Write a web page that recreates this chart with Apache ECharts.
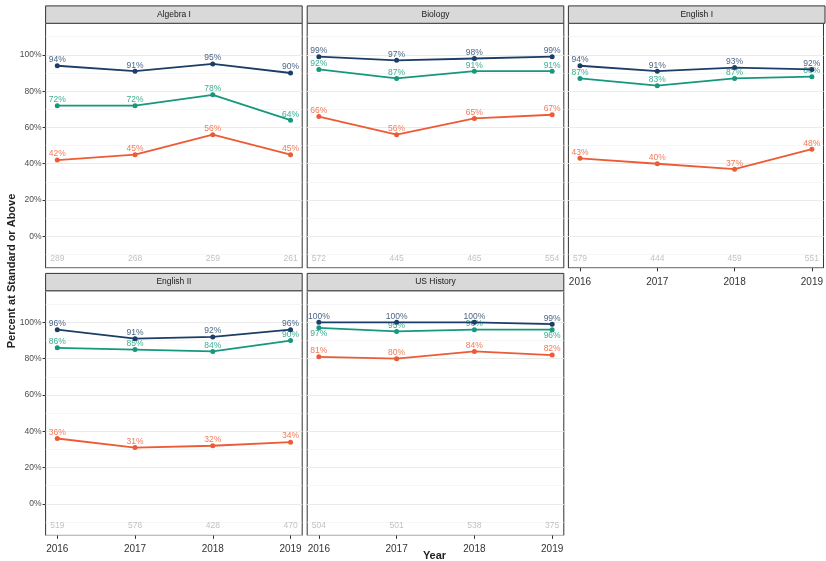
<!DOCTYPE html>
<html><head><meta charset="utf-8">
<script src="https://cdn.jsdelivr.net/npm/echarts@6/dist/echarts.min.js"></script>
<style>html,body{margin:0;padding:0;background:#fff}#c{width:826px;height:561px}</style>
</head><body><div id="c"></div>
<script>
// ---- data ----
const years = [2016, 2017, 2018, 2019];
const subjects = ['Algebra I', 'Biology', 'English I', 'English II', 'US History'];
const approaches = [[94, 91, 95, 90], [99, 97, 98, 99], [94, 91, 93, 92], [96, 91, 92, 96], [100, 100, 100, 99]];
const meets      = [[72, 72, 78, 64], [92, 87, 91, 91], [87, 83, 87, 88], [86, 85, 84, 90], [97, 95, 96, 96]];
const masters    = [[42, 45, 56, 45], [66, 56, 65, 67], [43, 40, 37, 48], [36, 31, 32, 34], [81, 80, 84, 82]];
const testedN    = [[289, 268, 259, 261], [572, 445, 465, 554], [579, 444, 459, 551], [519, 576, 428, 470], [504, 501, 538, 375]];
const yTicks = [0, 20, 40, 60, 80, 100];

// ---- style / layout ----
const FONT = 'Liberation Sans, Arial, sans-serif';
const colLefts = [45.6, 307.2, 568.4];
const rowTops = [23.3, 290.8];
const W = 256.6, H = 244.6, STRIP = 17.4;
const yMin = -17.4, yMax = 117.4, nLabelY = -12.3;
const seriesDefs = [
  {name: 'Masters', data: masters, color: '#ec5b35', label: '#f07b5c'},
  {name: 'Meets', data: meets, color: '#16987d', label: '#3dad93'},
  {name: 'Approaches', data: approaches, color: '#1c3e66', label: '#4c6686'}
];
// label placement exceptions: [panel, series name, point index]
const belowLabels = [[4, 'Meets', 0], [4, 'Meets', 3]];

const grids = [], xAxes = [], yAxes = [], series = [], graphics = [];
subjects.forEach((subj, i) => {
  const col = i % 3, row = Math.floor(i / 3);
  const left = colLefts[col], top = rowTops[row];
  const showX = i >= 2, showY = col === 0;
  grids.push({left, top, width: W, height: H, show: true, borderColor: '#333', borderWidth: 1, backgroundColor: 'transparent'});
  xAxes.push({
    type: 'value', gridIndex: i, min: 2015.85, max: 2019.15, position: 'bottom',
    splitLine: {show: false}, axisLine: {show: false, onZero: false},
    axisTick: {show: showX, length: 3.5, customValues: years, lineStyle: {color: '#333', width: 1}},
    axisLabel: {show: showX, customValues: years, formatter: v => String(v), fontSize: 10, color: '#333', margin: 9, fontFamily: FONT}
  });
  // minor grid lines
  yAxes.push({
    type: 'value', gridIndex: i, min: yMin, max: yMax, splitNumber: 13, position: 'left',
    axisLine: {show: false, onZero: false}, axisTick: {show: false}, axisLabel: {show: false},
    splitLine: {show: true, lineStyle: {color: '#f2f2f2', width: 0.7}}
  });
  // major grid lines + labels
  yAxes.push({
    type: 'value', gridIndex: i, min: yMin, max: yMax, splitNumber: 7, position: 'left', offset: 0,
    axisLine: {show: false, onZero: false},
    axisTick: {show: showY, length: 3, customValues: yTicks, lineStyle: {color: '#333', width: 1}},
    axisLabel: {show: showY, customValues: yTicks, formatter: v => v + '%', fontSize: 8.5, color: '#4d4d4d', margin: 4, fontFamily: FONT},
    splitLine: {show: true, lineStyle: {color: '#ebebeb', width: 1}}
  });
  seriesDefs.forEach((s, si) => {
    series.push({
      type: 'line', name: s.name, xAxisIndex: i, yAxisIndex: 2 * i + 1,
      data: years.map((y, k) => {
        const item = {value: [y, s.data[i][k]]};
        if (belowLabels.some(b => b[0] === i && b[1] === s.name && b[2] === k)) item.label = {position: 'bottom'};
        return item;
      }),
      symbol: 'circle', symbolSize: 5, showSymbol: true,
      lineStyle: {width: 1.8, color: s.color}, itemStyle: {color: s.color},
      label: {show: true, position: 'top', distance: -1, formatter: p => p.value[1] + '%', fontSize: 8.5, color: s.label, fontFamily: FONT},
      z: 3 + si, animation: false, emphasis: {disabled: true}
    });
  });
  series.push({
    type: 'scatter', name: 'n', xAxisIndex: i, yAxisIndex: 2 * i + 1,
    data: years.map((y, k) => [y, nLabelY, testedN[i][k]]),
    symbolSize: 1, itemStyle: {color: 'rgba(0,0,0,0)'},
    label: {show: true, position: 'inside', formatter: p => String(p.value[2]), fontSize: 8.5, color: '#b3b3b3', fontFamily: FONT},
    animation: false, silent: true
  });
  graphics.push({
    type: 'rect', shape: {x: left, y: top - STRIP, width: W, height: STRIP},
    style: {fill: '#d9d9d9', stroke: '#333', lineWidth: 1}, z: 10
  });
  graphics.push({
    type: 'text', x: left + W / 2, y: top - STRIP / 2,
    style: {text: subj, fill: '#1a1a1a', font: '8.5px ' + FONT, align: 'center', verticalAlign: 'middle'}, z: 11
  });
});
graphics.push({
  type: 'text', x: 12, y: 271, rotation: Math.PI / 2,
  style: {text: 'Percent at Standard or Above', fill: '#222', font: 'bold 11px ' + FONT, align: 'center', verticalAlign: 'middle'}
});
graphics.push({
  type: 'text', x: 434.5, y: 556,
  style: {text: 'Year', fill: '#222', font: 'bold 11px ' + FONT, align: 'center', verticalAlign: 'middle'}
});

const chart = echarts.init(document.getElementById('c'), null, {renderer: 'canvas'});
chart.setOption({
  animation: false, backgroundColor: '#fff',
  grid: grids, xAxis: xAxes, yAxis: yAxes, series, graphic: graphics
});
</script></body></html>
